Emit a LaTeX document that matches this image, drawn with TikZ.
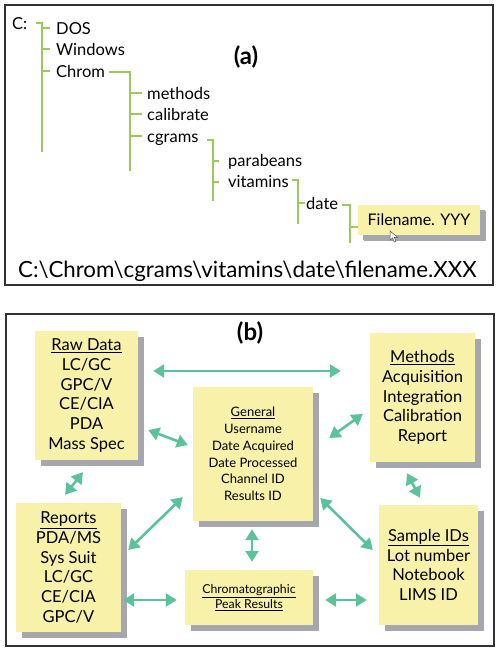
\documentclass[tikz,border=0pt]{standalone}
\usepackage{fontspec}
\setmainfont{Lato}
\usetikzlibrary{arrows.meta,shadows,calc}
\definecolor{boxfill}{HTML}{F8F1A9}
\definecolor{shadowgray}{HTML}{A6A6AE}
\definecolor{treegreen}{HTML}{9DC95B}
\definecolor{teal}{HTML}{5CC29C}
\definecolor{frame}{HTML}{333333}
\begin{document}
\begin{tikzpicture}[x=1pt,y=-1pt,
  panel/.style={draw=frame,line width=1.5pt},
  tree/.style={draw=treegreen,line width=1.6pt},
  treetext/.style={anchor=base west,inner sep=0pt,font=\fontsize{16.5}{19}\selectfont},
  notebox/.style={fill=boxfill,inner sep=0pt,align=center,
     drop shadow={shadow xshift=6pt,shadow yshift=-6pt,fill=shadowgray,opacity=1}},
  bigtext/.style={font=\fontsize{16.5}{19.7}\selectfont},
  midtext/.style={font=\fontsize{13}{16.8}\selectfont},
  smalltext/.style={font=\fontsize{12.3}{15}\selectfont},
  link/.style={draw=teal,line width=2.6pt,{Triangle[length=11pt,width=13pt]}-{Triangle[length=11pt,width=13pt]}},
  lbl/.style={font=\fontsize{24}{26}\selectfont\bfseries}
]
\useasboundingbox (0,0) rectangle (500,653);
\fill[white] (0,0) rectangle (500,653);
% ---------- panel (a) ----------
\draw[panel] (5,5) rectangle (493,285);
\node[lbl] (la) at (246,57) {(a)};
\node[treetext] (c) at (12,29) {C:};
\node[treetext] (dos) at (56,34) {DOS};
\node[treetext] (win) at (56,55) {Windows};
\node[treetext] (chrom) at (56,77) {Chrom};
\node[treetext] (meth) at (147,99) {methods};
\node[treetext] (cal) at (147,120) {calibrate};
\node[treetext] (cgr) at (147,142) {cgrams};
\node[treetext] (para) at (228,166) {parabeans};
\node[treetext] (vit) at (228,187) {vitamins};
\node[treetext] (date) at (306,209) {date};
\draw[tree] (36,23) -- (42,23) -- (42,152);
\draw[tree] (42,28) -- (50,28) (42,49) -- (50,49) (42,71) -- (50,71);
\draw[tree] (109,72) -- (130,72) -- (130,171);
\draw[tree] (130,93) -- (142,93) (130,114) -- (142,114) (130,136) -- (142,136);
\draw[tree] (207,140) -- (213,140) -- (213,201);
\draw[tree] (213,161) -- (219,161) (213,182) -- (219,182);
\draw[tree] (292,180) -- (298,180) -- (298,224);
\draw[tree] (298,203) -- (305,203);
\draw[tree] (342,205) -- (350,205) -- (350,243);
\draw[tree] (350,227) -- (358,227);
\node[notebox,minimum width=122pt,minimum height=30pt,
  drop shadow={shadow xshift=5pt,shadow yshift=-5pt,fill=shadowgray,opacity=1},
  font=\fontsize{16}{18}\selectfont] (file) at (419,220) {Filename. YYY};
% cursor
\filldraw[fill=white,draw=black!70,line width=0.5pt,shift={(390,231)},scale=0.85]
  (0,0) -- (0,11) -- (3,8) -- (5,13) -- (7,12) -- (5,7.5) -- (9,7.5) -- cycle;
\node[anchor=base west,inner sep=0pt,font=\fontsize{22.3}{26}\selectfont] (path) at (18,277)
  {C:\textbackslash Chrom\textbackslash cgrams\textbackslash vitamins\textbackslash date\textbackslash filename.XXX};
% ---------- panel (b) ----------
\draw[panel] (6,314) rectangle (494,646);
\node[lbl] (lb) at (250,333) {(b)};
\node[notebox,bigtext,minimum width=103pt,minimum height=129pt] (raw) at (86.5,395.5)
  {\underline{Raw Data}\\LC/GC\\GPC/V\\CE/CIA\\PDA\\Mass Spec};
\node[notebox,bigtext,minimum width=105pt,minimum height=129pt] (methods) at (422.5,397.5)
  {\underline{Methods}\\Acquisition\\Integration\\Calibration\\Report};
\node[notebox,midtext,minimum width=120pt,minimum height=134pt] (general) at (253,454)
  {\underline{General}\\Username\\Date Acquired\\Date Processed\\Channel ID\\Results ID};
\node[notebox,bigtext,minimum width=105pt,minimum height=129pt] (reports) at (68.5,567.5)
  {\underline{Reports}\\PDA/MS\\Sys Suit\\LC/GC\\CE/CIA\\GPC/V};
\node[notebox,smalltext,minimum width=128pt,minimum height=55pt] (chromres) at (249,597.5)
  {\underline{Chromatographic}\\\underline{Peak Results}};
\node[notebox,bigtext,minimum width=99pt,minimum height=120pt] (sample) at (428.5,565)
  {\underline{Sample IDs}\\Lot number\\Notebook\\LIMS ID};
% arrows
\draw[link] ($(raw.east)+(15,-24.5)$) -- ($(methods.west)+(-29,-26.5)$);
\draw[link] ($(raw.east)+(10,34.5)$) -- ($(general.west)+(-5,-9)$);
\draw[link] ($(general.east)+(16,-16)$) -- ($(methods.west)+(-7,16.5)$);
\draw[link] ($(reports.north)+(-3.5,-8)$) -- ($(raw.south)+(-3.5,12)$);
\draw[link] ($(reports.east)+(7,-17.5)$) -- ($(general.west)+(-10,43)$);
\draw[link] ($(reports.east)+(2,32.5)$) -- ($(chromres.west)+(-8,2.5)$);
\draw[link] ($(general.south)+(-1,8)$) -- ($(chromres.north)+(3,-8)$);
\draw[link] ($(chromres.east)+(12,2.5)$) -- ($(sample.west)+(-12,35)$);
\draw[link] ($(general.east)+(7,44)$) -- ($(sample.west)+(-6,-15)$);
\draw[link] ($(methods.south)+(-15.5,11)$) -- ($(sample.north)+(-8.5,-7)$);
\end{tikzpicture}
\end{document}
